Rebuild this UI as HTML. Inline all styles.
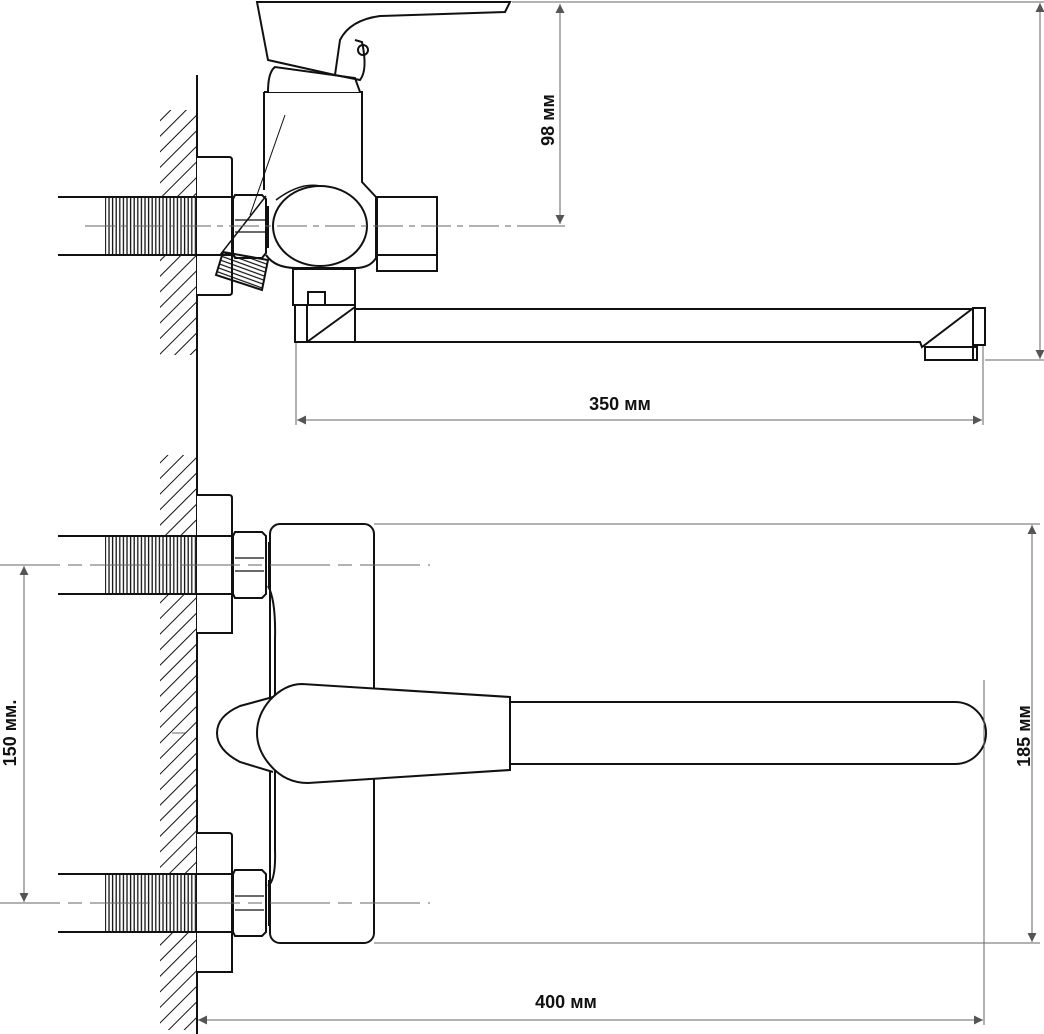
<!DOCTYPE html>
<html><head><meta charset="utf-8"><style>
html,body{margin:0;padding:0;background:#fff}
svg{display:block}
text{font-family:"Liberation Sans",sans-serif;font-weight:bold;font-size:18px;fill:#111}
</style></head><body>
<svg width="1044" height="1034" viewBox="0 0 1044 1034" xmlns="http://www.w3.org/2000/svg">
<defs>
<pattern id="hatch" width="11" height="11" patternUnits="userSpaceOnUse" patternTransform="rotate(45)">
<line x1="0" y1="0" x2="0" y2="11" stroke="#111" stroke-width="2"/>
</pattern>
<pattern id="thr" width="3.6" height="10" patternUnits="userSpaceOnUse">
<line x1="1" y1="0" x2="1" y2="10" stroke="#111" stroke-width="1.3"/>
</pattern>
<pattern id="thr2" width="10" height="4" patternUnits="userSpaceOnUse" patternTransform="rotate(20)">
<line x1="0" y1="1" x2="10" y2="1" stroke="#111" stroke-width="1.2"/>
</pattern>
<marker id="ar" viewBox="0 0 10 10" refX="10" refY="5" markerWidth="20" markerHeight="9" markerUnits="userSpaceOnUse" orient="auto-start-reverse">
<path d="M0,0 L10,5 L0,10z" fill="#555"/>
</marker>
</defs>
<g fill="none" stroke="#111" stroke-width="2">
<!-- wall -->
<rect x="160" y="110" width="37" height="245" fill="url(#hatch)" stroke="none"/>
<rect x="160" y="455" width="37" height="575" fill="url(#hatch)" stroke="none"/>
<line x1="197" y1="75" x2="197" y2="1034"/>

<!-- ===== TOP VIEW ===== -->
<rect x="105" y="197" width="91" height="58" fill="#fff" stroke="none"/>
<rect x="105" y="197" width="91" height="58" fill="url(#thr)" stroke="none"/>
<path d="M197,157 H229 Q232,157 232,160 V292 Q232,295 229,295 H197" fill="#fff"/>
<line x1="58" y1="197" x2="236" y2="197"/>
<line x1="58" y1="255" x2="236" y2="255"/>
<!-- body -->
<path d="M264,92 H362 V182 L376,197 V258 Q370,268 355,268 H296 Q275,268 266,255" fill="#fff"/>
<path d="M264,92 V190" />
<path d="M268,92 Q268,72 275,67 L355,78 L360,92" fill="#fff"/>
<!-- handle -->
<path d="M257,2 H510 L505,12 L380,16 Q350,20 340,40 L335,75 L268,60 Z" fill="#fff"/>
<path d="M335,75 L360,80 Q368,70 362,42 L355,40" />
<circle cx="363" cy="50" r="5"/>
<!-- nut -->
<path d="M235,195 H262 L266,199 V253 L262,258 H235 L233,253 V199 Z" fill="#fff"/>
<line x1="235" y1="220" x2="266" y2="220" stroke-width="1.2"/>
<line x1="235" y1="232" x2="266" y2="232" stroke-width="1.2"/>
<line x1="268" y1="206" x2="268" y2="248"/>
<!-- angled fitting -->
<path d="M223,252 L268,260 L262,290 L216,275 Z" fill="url(#thr2)"/>
<line x1="250" y1="215" x2="285" y2="115" stroke-width="1"/>
<line x1="266" y1="196" x2="220" y2="255" stroke-width="1.5"/>
<!-- ball -->
<ellipse cx="320" cy="226" rx="47" ry="40" fill="#fff"/>
<path d="M276,200 Q300,182 320,186" stroke-width="1.5"/>
<!-- right nut -->
<rect x="377" y="197" width="60" height="74" fill="#fff"/>
<line x1="377" y1="255" x2="437" y2="255"/>
<!-- lower block -->
<rect x="293" y="269" width="62" height="36" fill="#fff"/>
<rect x="308" y="292" width="17" height="13"/>
<!-- spout -->
<rect x="295" y="305" width="60" height="37" fill="#fff"/>
<line x1="307" y1="305" x2="307" y2="342"/>
<line x1="307" y1="342" x2="355" y2="307"/>
<path d="M355,309 H973 M355,342 H920 L922,347 L972,309"/>
<rect x="973" y="308" width="12" height="37" fill="#fff"/>
<rect x="925" y="347" width="52" height="13" fill="#fff"/>
<line x1="973" y1="347" x2="973" y2="360"/>

<!-- ===== FRONT VIEW ===== -->
<rect x="105" y="536" width="91" height="58" fill="#fff" stroke="none"/>
<rect x="105" y="874" width="91" height="58" fill="#fff" stroke="none"/>
<rect x="105" y="536" width="91" height="58" fill="url(#thr)" stroke="none"/>
<rect x="105" y="874" width="91" height="58" fill="url(#thr)" stroke="none"/>
<path d="M197,495 H229 Q232,495 232,498 V633 H197" fill="#fff"/>
<path d="M197,833 H229 Q232,833 232,836 V972 H197" fill="#fff"/>
<line x1="58" y1="536" x2="236" y2="536"/><line x1="58" y1="594" x2="236" y2="594"/>
<line x1="58" y1="874" x2="236" y2="874"/><line x1="58" y1="932" x2="236" y2="932"/>
<rect x="270" y="524" width="104" height="419" rx="10" fill="#fff"/>
<path d="M268,586 Q276,600 275,640 V850 Q276,880 268,886"/>
<path d="M235,532 H262 L266,536 V594 L262,598 H235 L233,594 V536 Z" fill="#fff"/>
<path d="M235,558 H264 M235,571 H264" stroke-width="1.2"/>
<path d="M235,870 H262 L266,874 V932 L262,936 H235 L233,932 V874 Z" fill="#fff"/>
<path d="M235,896 H264 M235,910 H264" stroke-width="1.2"/>
<line x1="269" y1="542" x2="269" y2="588"/><line x1="269" y1="880" x2="269" y2="926"/>
<!-- spout bar -->
<path d="M510,702 H955 A31,31 0 0 1 955,764 H510" fill="#fff"/>
<!-- handle -->
<path d="M273,697 L240,706 Q217,716 217,733 Q217,750 240,762 L273,772" fill="#fff"/>
<path d="M302,684 L510,697 V770 L308,783 Q285,783 270,765 Q257,750 257,733 Q257,715 270,700 Q285,684 302,684 Z" fill="#fff"/>
</g>

<!-- center lines -->
<g stroke="#666" stroke-width="1" fill="none">
<line x1="85" y1="226" x2="550" y2="226" stroke-dasharray="30,6,6,6"/>
<line x1="0" y1="565" x2="430" y2="565" stroke-dasharray="60,8,14,8"/>
<line x1="0" y1="903" x2="430" y2="903" stroke-dasharray="60,8,14,8"/>
<line x1="172" y1="733" x2="185" y2="733"/>
<line x1="512" y1="2" x2="570" y2="2"/>
<line x1="540" y1="226" x2="565" y2="226"/>
<line x1="560" y1="4" x2="560" y2="224" marker-start="url(#ar)" marker-end="url(#ar)"/>
<line x1="570" y1="2" x2="1044" y2="2"/>
<line x1="985" y1="360" x2="1044" y2="360"/>
<line x1="1040" y1="3" x2="1040" y2="359" marker-start="url(#ar)" marker-end="url(#ar)"/>
<line x1="296" y1="343" x2="296" y2="425"/>
<line x1="983" y1="346" x2="983" y2="425"/>
<line x1="297" y1="420" x2="982" y2="420" marker-start="url(#ar)" marker-end="url(#ar)"/>
<line x1="374" y1="524" x2="1040" y2="524"/>
<line x1="374" y1="943" x2="1040" y2="943"/>
<line x1="1032" y1="525" x2="1032" y2="942" marker-start="url(#ar)" marker-end="url(#ar)"/>
<line x1="24" y1="566" x2="24" y2="902" marker-start="url(#ar)" marker-end="url(#ar)"/>
<line x1="984" y1="680" x2="984" y2="1025"/>
<line x1="198" y1="1020" x2="983" y2="1020" marker-start="url(#ar)" marker-end="url(#ar)"/>
</g>

<text x="548" y="120" text-anchor="middle" transform="rotate(-90 548 120)" dy="6">98 мм</text>
<text x="620" y="410" text-anchor="middle">350 мм</text>
<text x="1024" y="736" text-anchor="middle" transform="rotate(-90 1024 736)" dy="6">185 мм</text>
<text x="10" y="733" text-anchor="middle" transform="rotate(-90 10 733)" dy="6">150 мм.</text>
<text x="566" y="1008" text-anchor="middle">400 мм</text>
</svg>
</body></html>
